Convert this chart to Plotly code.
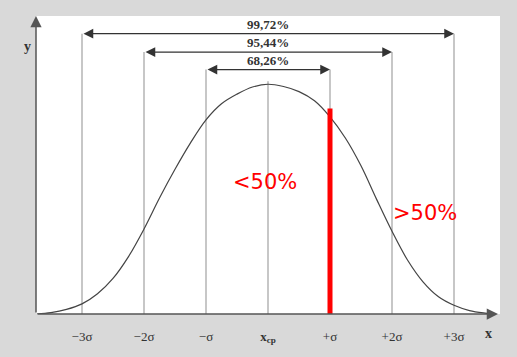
import plotly.graph_objects as go

# ---- data ----
curve_x = [-3.73, -3.5, -3.25, -3.0, -2.75, -2.5, -2.25, -2.0, -1.75, -1.5, -1.25, -1.0,
           -0.75, -0.5, -0.25, 0.0, 0.25, 0.5, 0.75, 1.0, 1.25, 1.5, 1.75, 2.0, 2.25,
           2.5, 2.75, 3.0, 3.25, 3.5, 3.66]
curve_y = [0.0, 0.006, 0.02, 0.044, 0.088, 0.155, 0.25, 0.37, 0.505, 0.63, 0.745, 0.845,
           0.915, 0.957, 0.988, 1.0, 0.99, 0.968, 0.928, 0.858, 0.765, 0.645, 0.50, 0.36, 0.235,
           0.14, 0.075, 0.038, 0.015, 0.004, 0.0]
tick_vals = [-3, -2, -1, 0, 1, 2, 3]
tick_text = ["−3σ", "−2σ", "−σ", "<b>x<sub>ср</sub></b>", "+σ", "+2σ", "+3σ"]
interval_half = [3, 2, 1]
interval_labels = ["99,72%", "95,44%", "68,26%"]
marker_x = 1.0
marker_top = 0.894
region_labels = ["<50%", ">50%"]
region_x = [-0.05, 2.53]
region_y = [0.576, 0.44]

XR = [-3.742, 3.742]
YR = [0, 1.297]
arrow_levels = [1.22, 1.14, 1.064]
center_top = 1.013
GRID = "#b4b4b4"
DARK = "#333333"
SERIF = "Liberation Serif"

fig = go.Figure()
fig.add_trace(go.Scatter(x=curve_x, y=curve_y, mode="lines",
                         line=dict(color="#444444", width=1.2, shape="spline", smoothing=1.0),
                         hoverinfo="skip", showlegend=False))

shapes = []
for h, lvl in zip(interval_half, arrow_levels):
    for s in (-1, 1):
        shapes.append(dict(type="line", xref="x", yref="y", x0=s * h, x1=s * h,
                           y0=0, y1=lvl, line=dict(color=GRID, width=1.5), layer="below"))
shapes.append(dict(type="line", xref="x", yref="y", x0=0, x1=0, y0=0, y1=center_top,
                   line=dict(color=GRID, width=1.5), layer="below"))
shapes.append(dict(type="line", xref="x", yref="y", x0=marker_x, x1=marker_x, y0=0,
                   y1=marker_top, line=dict(color="#ff0000", width=5)))

ann = []
for h, lvl, lab in zip(interval_half, arrow_levels, interval_labels):
    ann.append(dict(x=h, y=lvl, ax=-h, ay=lvl, xref="x", yref="y", axref="x", ayref="y",
                    text="", showarrow=True, arrowhead=2, arrowside="end+start",
                    arrowsize=1.5, arrowwidth=1.3, arrowcolor=DARK))
    ann.append(dict(x=0, y=lvl, xref="x", yref="y", text="<b>" + lab + "</b>",
                    showarrow=False, yanchor="bottom", yshift=0,
                    font=dict(family=SERIF, size=13, color=DARK)))
# axes arrows
ann.append(dict(x=XR[0], y=YR[1], ax=XR[0], ay=0, xref="x", yref="y", axref="x", ayref="y",
                text="", showarrow=True, arrowhead=2, arrowsize=1.5, arrowwidth=1.5,
                arrowcolor="#555555"))
ann.append(dict(x=3.71, y=0, ax=XR[0], ay=0, xref="x", yref="y", axref="x", ayref="y",
                text="", showarrow=True, arrowhead=2, arrowsize=1.5, arrowwidth=1.5,
                arrowcolor="#555555"))
ann.append(dict(x=-0.022, y=(322 - 43) / 306, xref="paper", yref="paper", text="<b>y</b>",
                xshift=-4, yshift=5,
                showarrow=False, font=dict(family=SERIF, size=14, color=DARK)))
ann.append(dict(x=3.55, y=0, xref="x", yref="y", yshift=-19, text="<b>x</b>", showarrow=False,
                font=dict(family=SERIF, size=14, color=DARK)))
for t, rx, ry in zip(region_labels, region_x, region_y):
    ann.append(dict(x=rx, y=ry, xref="x", yref="y", text=t, showarrow=False,
                    font=dict(family="DejaVu Sans", size=21, color="#ff0000")))

fig.update_layout(
    width=517, height=357,
    margin=dict(l=36, r=17, t=16, b=35),
    paper_bgcolor="#d9d9d9", plot_bgcolor="#ffffff",
    shapes=shapes, annotations=ann,
    xaxis=dict(range=XR, showgrid=False, zeroline=False, showline=False,
               tickmode="array", tickvals=tick_vals, ticktext=tick_text,
               ticks="outside", ticklen=10, tickcolor="rgba(0,0,0,0)",
               tickfont=dict(family=SERIF, size=13, color=DARK)),
    yaxis=dict(range=YR, showgrid=False, zeroline=False, showline=False,
               showticklabels=False, ticks=""),
)

fig.write_html("out.html", config={"displayModeBar": False},
               post_script="document.body.style.margin='0';document.body.style.overflow='hidden';document.body.style.background='#d9d9d9';")
